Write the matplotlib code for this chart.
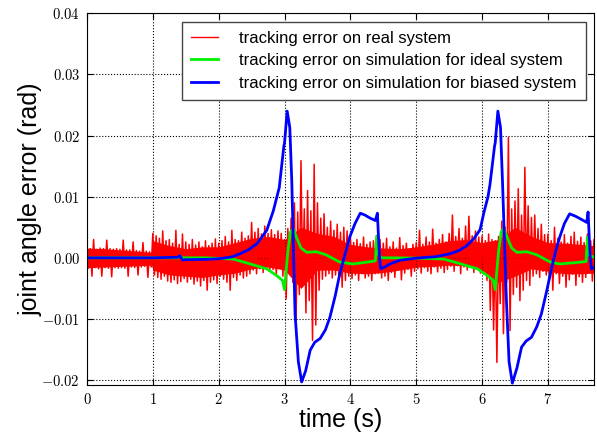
import matplotlib
matplotlib.use('Agg')
import matplotlib.pyplot as plt
import numpy as np
from matplotlib.ticker import MultipleLocator, FuncFormatter

plt.rcParams["mathtext.fontset"] = "cm"
plt.rcParams["font.family"] = ["Liberation Sans", "DejaVu Sans"]

# 数据单位: 1e-3 rad
# 实际系统误差 (噪声信号): 每 0.05 s 读取的上沿 / 下沿
red_step = 0.05
red_hi = [1.6, 1.5, 3.0, 1.4, 1.6, 1.5, 2.9, 1.5, 1.4, 1.5,
          1.4, 2.9, 1.3, 1.3, 2.6, 1.2, 1.1, 2.5, 1.1, 1.0,
          4.0, 3.6, 3.2, 4.4, 2.8, 3.0, 2.4, 4.5, 2.2, 3.9,
          2.6, 2.2, 3.0, 2.1, 2.6, 1.8, 2.8, 2.0, 2.4, 3.1,
          2.4, 2.8, 3.5, 2.6, 4.5, 3.0, 2.8, 4.2, 3.2, 3.6,
          5.8, 4.2, 4.8, 3.9, 5.2, 4.0, 4.6, 3.8, 4.4, 4.0,
          3.0, 4.8, 6.5, 9.0, 7.5, 15.9, 8.0, 11.0, 7.7, 15.3,
          9.0, 6.5, 7.2, 5.0, 6.0, 4.5, 5.5, 4.2, 5.0, 4.4,
          3.6, 2.5, 3.0, 2.3, 3.4, 2.2, 2.6, 2.8, 3.6, 3.0,
          2.4, 3.2, 1.8, 2.6, 1.6, 3.3, 2.0, 2.4, 1.4, 2.2,
          2.5, 4.5, 2.2, 3.4, 2.6, 4.7, 2.4, 3.0, 3.8, 2.6,
          4.0, 7.0, 3.5, 4.8, 3.2, 5.2, 6.8, 3.6, 4.4, 3.4,
          3.6, 2.8, 3.9, 3.0, 2.8, 3.5, 6.0, 5.0, 19.7, 8.0,
          9.3, 11.3, 7.0, 14.8, 8.5, 6.6, 7.0, 4.8, 5.5, 3.8,
          3.9, 2.8, 5.0, 3.2, 2.6, 3.8, 2.4, 3.5, 4.2, 2.7,
          3.4, 2.5, 3.9, 2.8, 3.0]
red_lo = [-1.7, -3.0, -1.6, -1.8, -3.0, -1.6, -1.7, -3.1, -1.6, -1.7,
          -1.6, -1.7, -3.0, -1.5, -1.6, -2.8, -1.5, -1.4, -3.2, -1.5,
          -2.8, -3.2, -3.5, -3.0, -3.8, -4.0, -3.6, -4.2, -3.9, -3.4,
          -4.0, -3.5, -4.3, -3.8, -4.6, -3.7, -5.3, -4.0, -3.6, -4.2,
          -3.0, -3.5, -4.0, -5.3, -3.2, -3.7, -2.8, -3.3, -3.0, -2.6,
          -2.0, -2.6, -1.8, -2.4, -1.6, -2.2, -1.9, -2.8, -1.7, -3.0,
          -6.7, -2.5, -4.0, -10.2, -6.0, -4.5, -9.0, -7.0, -13.5, -11.0,
          -5.3, -3.5, -3.0, -2.6, -3.3, -2.8, -3.5, -4.8, -3.7, -3.0,
          -3.4, -2.8, -3.7, -2.6, -3.3, -3.0, -3.7, -2.6, -2.5, -3.3,
          -3.0, -3.7, -2.4, -3.2, -2.0, -3.6, -2.5, -1.9, -3.0, -2.2,
          -1.8, -2.5, -1.6, -2.2, -2.6, -1.5, -2.3, -1.7, -2.4, -1.9,
          -1.4, -2.2, -1.3, -2.6, -1.5, -2.0, -1.2, -2.4, -1.6, -2.5,
          -2.6, -3.7, -8.6, -11.8, -17.1, -7.5, -12.4, -4.0, -11.9, -6.0,
          -4.8, -7.0, -5.3, -3.7, -4.5, -3.0, -2.6, -3.2, -2.2, -2.8,
          -3.4, -5.3, -2.6, -4.2, -3.0, -4.8, -3.6, -2.7, -4.5, -3.1,
          -4.0, -3.2, -2.4, -3.8, -3.0]

# 噪声信号中密集部分的上下边界
core_t = [0.0, 0.25, 0.5, 0.75, 0.98, 1.0, 1.25, 1.5, 1.75, 2.0, 2.25,
          2.5, 2.75, 3.0, 3.25, 3.5, 3.75, 4.0, 4.25, 4.5, 4.75, 5.0, 5.25,
          5.5, 5.75, 6.0, 6.25, 6.5, 6.75, 7.0, 7.25, 7.5, 7.7]
core_hi = [1.6, 1.5, 1.3, 1.1, 0.9, 2.8, 2.0, 1.5, 1.8, 1.8, 2.5,
           3.2, 3.5, 3.0, 5.0, 4.0, 3.5, 2.2, 1.8, 1.6, 1.5, 1.8, 2.2,
           2.8, 3.0, 2.5, 3.0, 5.0, 3.5, 2.5, 2.4, 2.2, 2.0]
core_lo = [-1.6, -1.5, -1.4, -1.3, -1.2, -2.0, -2.8, -3.0, -3.2, -2.8, -2.5,
           -1.8, -1.5, -2.0, -5.0, -2.0, -2.0, -2.5, -2.6, -2.4, -2.0, -1.5, -1.4,
           -1.2, -1.3, -2.0, -4.0, -3.0, -1.8, -2.2, -2.6, -2.6, -2.5]

# 理想系统仿真误差
green_t = [0.0, 1.38, 1.41, 1.45, 1.8, 2.22, 2.48, 2.73, 2.88, 2.97, 3.0,
           3.05, 3.09, 3.13, 3.18, 3.25, 3.34, 3.48, 3.63, 3.75, 3.84, 4.04,
           4.25, 4.38, 4.40, 4.43, 4.47, 4.7, 5.0, 5.42, 5.68, 5.93, 6.08,
           6.17, 6.20, 6.25, 6.29, 6.33, 6.38, 6.45, 6.53, 6.68, 6.83, 6.95,
           7.04, 7.18, 7.40, 7.58, 7.60, 7.63, 7.70]
green_v = [0.0, 0.0, 0.3, 0.0, 0.0, -0.2, -1.0, -1.8, -2.9, -3.7, -5.2,
           1.0, 4.2, 4.8, 3.4, 1.6, 0.9, 1.0, 0.5, -0.2, -0.7, -1.0,
           -0.7, -0.5, 3.6, 0.5, 0.0, 0.0, -0.05, -0.2, -1.0, -1.8, -2.9,
           -3.7, -5.2, 1.0, 4.2, 4.8, 3.4, 1.6, 0.9, 1.0, 0.5, -0.2,
           -0.7, -1.0, -0.8, -0.6, 3.4, 0.4, 0.1]

# 偏置系统仿真误差
blue_t = [0.0, 1.0, 1.38, 1.41, 1.45, 1.5, 1.8, 2.0, 2.2, 2.32, 2.45, 2.58,
          2.73, 2.83, 2.92, 2.99, 3.0, 3.04, 3.08, 3.11, 3.16, 3.21, 3.26,
          3.32, 3.39, 3.46, 3.54, 3.62, 3.69, 3.77, 3.84, 3.92, 3.99, 4.07,
          4.15, 4.22, 4.30, 4.38, 4.41, 4.44, 4.46, 4.52, 4.60, 4.75, 5.0,
          5.3, 5.51, 5.65, 5.77, 5.88, 5.97, 6.03, 6.09, 6.12, 6.19, 6.20,
          6.24, 6.28, 6.31, 6.37, 6.41, 6.46, 6.53, 6.60, 6.67, 6.75, 6.83,
          6.90, 6.98, 7.06, 7.12, 7.18, 7.25, 7.33, 7.42, 7.49, 7.59, 7.61,
          7.64, 7.66, 7.70]
blue_v = [0.0, 0.0, 0.1, 0.35, -0.35, -0.3, -0.25, -0.15, 0.15, 0.65, 1.3,
          2.3, 4.5, 7.7, 11.5, 18.3, 18.8, 24.0, 21.3, 12.6, -9.2, -17.0,
          -20.3, -18.5, -15.1, -13.8, -13.2, -11.8, -9.7, -6.2, -2.6, 0.6,
          3.4, 5.6, 7.3, 7.0, 6.5, 6.1, 7.3, 0.5, -1.8, -1.5, -1.0, -0.4,
          -0.05, 0.2, 0.65, 1.2, 2.0, 3.2, 4.6, 7.5, 10.0, 12.0, 18.3, 18.8,
          24.0, 21.3, 12.6, -7.0, -17.0, -20.5, -18.0, -14.6, -13.6, -13.0,
          -11.3, -9.2, -5.5, -1.5, 1.2, 3.4, 5.6, 7.2, 6.8, 6.4, 5.8, 7.5,
          0.5, -1.8, -1.6]

labels = ["tracking error on real system",
          "tracking error on simulation for ideal system",
          "tracking error on simulation for biased system"]

# 噪声信号: 上沿和下沿交替连接
n = len(red_hi)
red_t = np.empty(2 * n)
red_t[0::2] = np.arange(n) * red_step
red_t[1::2] = np.arange(n) * red_step + red_step / 2
red_v = np.empty(2 * n)
red_v[0::2] = red_hi
red_v[1::2] = red_lo

fig = plt.figure(figsize=(5.97, 4.36), dpi=100)
ax = fig.add_axes([87 / 597, 1 - 385 / 436, 507 / 597, 371.7 / 436])

ax.fill_between(core_t, np.array(core_lo) * 1e-3, np.array(core_hi) * 1e-3,
                color='#ff0000', lw=0)
ax.plot(red_t, red_v * 1e-3, color='#ff0000', lw=1.1, label=labels[0])
ax.plot(green_t, np.array(green_v) * 1e-3, color='#00f000', lw=2.0, label=labels[1])
ax.plot(blue_t, np.array(blue_v) * 1e-3, color='#0000ff', lw=2.0, label=labels[2])

ax.set_xlim(0, 7.7)
ax.set_ylim(-0.0208, 0.04)
ax.xaxis.set_major_locator(MultipleLocator(1))
ax.yaxis.set_major_locator(MultipleLocator(0.01))
ax.xaxis.set_major_formatter(FuncFormatter(lambda v, p: r'$%d$' % round(v)))
ax.yaxis.set_major_formatter(FuncFormatter(lambda v, p: r'$%.2f$' % (0.0 if abs(v) < 1e-9 else v)))
ax.tick_params(which='major', direction='in', top=True, right=True,
               length=4, labelsize=10.5, pad=5)
ax.grid(True, color='k', linestyle=':', lw=0.8)

ax.set_xlabel("time (s)", fontsize=18, labelpad=1)
ax.set_ylabel("joint angle error (rad)", fontsize=18)
ax.yaxis.set_label_coords(-0.088, 0.5)

leg = ax.legend(loc='upper right', fontsize=12, fancybox=False,
                framealpha=1, borderaxespad=0.5, borderpad=0.55,
                handlelength=1.6, handletextpad=1.25, labelspacing=0.45)
leg.get_frame().set_edgecolor('#444444')
leg.get_frame().set_linewidth(1.0)
leg.get_lines()[0].set_linewidth(1.0)

fig.savefig("out.png", dpi=100)
